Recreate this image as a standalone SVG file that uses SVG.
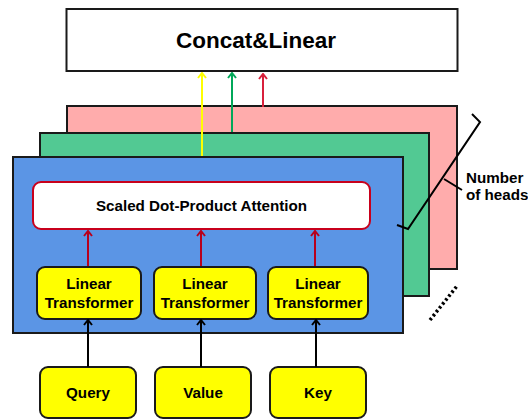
<svg xmlns="http://www.w3.org/2000/svg" width="528" height="419" viewBox="0 0 528 419">
  <style>
    text { font-family: "Liberation Sans", Arial, sans-serif; font-weight: bold; fill: #000; text-anchor: middle; }
    .box { stroke: #1a1a1a; stroke-width: 2; }
    .yel { fill: #ffff00; stroke: #1a1a1a; stroke-width: 2; }
    .lbl { font-size: 15.2px; }
    .conn { fill: none; stroke-width: 2; }
  </style>
  <defs>
    <!-- open chevron heads, drawn pointing along +x so orient="auto" turns them -->
    <marker id="ahBlack" viewBox="0 0 10 10" refX="9" refY="5" markerWidth="10" markerHeight="10" markerUnits="userSpaceOnUse" orient="auto">
      <path d="M4,1 L9,5 L4,9" fill="none" stroke="#000" stroke-width="2"/>
    </marker>
    <marker id="ahRed" viewBox="0 0 10 10" refX="9" refY="5" markerWidth="10" markerHeight="10" markerUnits="userSpaceOnUse" orient="auto">
      <path d="M4,1 L9,5 L4,9" fill="none" stroke="#b8001c" stroke-width="2"/>
    </marker>
    <marker id="ahYellow" viewBox="0 0 10 10" refX="9" refY="5" markerWidth="10" markerHeight="10" markerUnits="userSpaceOnUse" orient="auto">
      <path d="M4,1 L9,5 L4,9" fill="none" stroke="#ffff00" stroke-width="2"/>
    </marker>
    <marker id="ahGreen" viewBox="0 0 10 10" refX="9" refY="5" markerWidth="10" markerHeight="10" markerUnits="userSpaceOnUse" orient="auto">
      <path d="M4,1 L9,5 L4,9" fill="none" stroke="#00a859" stroke-width="2"/>
    </marker>
    <marker id="ahCrimson" viewBox="0 0 10 10" refX="9" refY="5" markerWidth="10" markerHeight="10" markerUnits="userSpaceOnUse" orient="auto">
      <path d="M4,1 L9,5 L4,9" fill="none" stroke="#d8203c" stroke-width="2"/>
    </marker>
  </defs>

  <!-- output projection -->
  <g id="concat">
    <rect x="66.5" y="9" width="391" height="62" fill="#fff" class="box"/>
    <text x="256" y="48" style="font-size:22.5px">Concat&amp;Linear</text>
  </g>

  <!-- stacked attention heads -->
  <g id="head3">
    <rect x="67" y="106" width="390" height="163" fill="#ffacac" class="box"/>
  </g>
  <g id="head2">
    <rect x="40" y="133" width="389" height="163" fill="#52c993" class="box"/>
  </g>
  <g id="head1">
    <rect x="13" y="157" width="390" height="176" fill="#5b95e5" class="box"/>
  </g>

  <g id="attention">
    <rect x="33" y="182" width="337" height="47" rx="8" fill="#fff" stroke="#c8001c" stroke-width="2"/>
    <text x="201.5" y="211" class="lbl">Scaled Dot-Product Attention</text>
  </g>

  <g id="linear-q">
    <rect x="37" y="267" width="104" height="52" rx="8" class="yel"/>
    <text x="89" y="289" class="lbl">Linear</text>
    <text x="89" y="307.5" class="lbl">Transformer</text>
  </g>
  <g id="linear-v">
    <rect x="154" y="267" width="102" height="52" rx="8" class="yel"/>
    <text x="205" y="289" class="lbl">Linear</text>
    <text x="205" y="307.5" class="lbl">Transformer</text>
  </g>
  <g id="linear-k">
    <rect x="268" y="267" width="100" height="52" rx="8" class="yel"/>
    <text x="318" y="289" class="lbl">Linear</text>
    <text x="318" y="307.5" class="lbl">Transformer</text>
  </g>

  <g id="query">
    <rect x="40" y="367" width="96" height="51" rx="8" class="yel"/>
    <text x="88" y="398" class="lbl">Query</text>
  </g>
  <g id="value">
    <rect x="155" y="367" width="96" height="51" rx="8" class="yel"/>
    <text x="203" y="398" class="lbl">Value</text>
  </g>
  <g id="key">
    <rect x="270" y="367" width="96" height="51" rx="8" class="yel"/>
    <text x="318" y="398" class="lbl">Key</text>
  </g>

  <!-- head-count annotation -->
  <g id="heads-note">
    <path d="M472,114 L480,122 L408,229 L397,225" fill="none" stroke="#000" stroke-width="2"/>
    <path d="M444,179 L462,190" fill="none" stroke="#000" stroke-width="2"/>
    <text x="466" y="183" class="lbl" style="text-anchor:start">Number</text>
    <text x="466" y="200" class="lbl" style="text-anchor:start">of heads</text>
    <path d="M430,320 L457,286" fill="none" stroke="#000" stroke-width="3.5" stroke-dasharray="2.5 2.5"/>
  </g>

  <g id="connectors">
    <path class="conn" d="M88,367 V320" stroke="#000" marker-end="url(#ahBlack)"/>
    <path class="conn" d="M201,367 V320" stroke="#000" marker-end="url(#ahBlack)"/>
    <path class="conn" d="M316,367 V320" stroke="#000" marker-end="url(#ahBlack)"/>
    <path class="conn" d="M88,266 V231" stroke="#b8001c" marker-end="url(#ahRed)"/>
    <path class="conn" d="M201,266 V231" stroke="#b8001c" marker-end="url(#ahRed)"/>
    <path class="conn" d="M315,266 V231" stroke="#b8001c" marker-end="url(#ahRed)"/>
    <path class="conn" d="M202,156 V73" stroke="#ffff00" marker-end="url(#ahYellow)"/>
    <path class="conn" d="M232,132 V73" stroke="#00a859" marker-end="url(#ahGreen)"/>
    <path class="conn" d="M263,107 V74" stroke="#d8203c" marker-end="url(#ahCrimson)"/>
  </g>
</svg>
